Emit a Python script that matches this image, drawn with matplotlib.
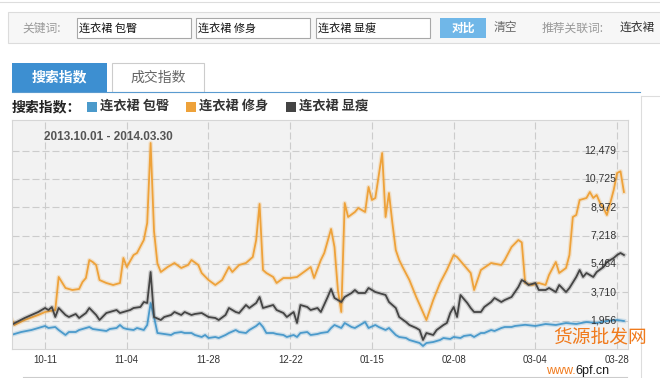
import matplotlib
matplotlib.use('Agg')
import matplotlib.pyplot as plt
import matplotlib.transforms as mtransforms
from matplotlib.patches import Rectangle
import pandas as pd

plt.rcParams['font.family'] = ['Noto Sans CJK SC', 'DejaVu Sans']

# ---- data (day offsets from 2013-10-01) ----
start = pd.Timestamp('2013-10-01')

baotun_days = [0, 3, 6, 9, 10, 11, 13, 14, 16, 17, 19, 20, 22, 23, 24, 26, 28, 29, 31, 32,
               33, 34, 36, 37, 39, 40, 41, 42, 43, 45, 47, 48, 50, 51, 53, 54, 56, 57, 58, 60,
               61, 63, 64, 66, 67, 69, 70, 72, 73, 74, 75, 77, 78, 80, 81, 83, 84, 85, 87, 88,
               90, 91, 93, 94, 95, 97, 98, 100, 101, 102, 104, 105, 107, 108, 110, 111, 113, 114, 116, 117,
               119, 120, 121, 122, 124, 126, 127, 129, 130, 132, 133, 135, 136, 138, 139, 141, 142, 144, 145, 147,
               148, 151, 154, 157, 160, 163, 166, 169, 172, 175, 178, 180]
baotun_vals = [1069, 1254, 1378, 1564, 1626, 1502, 1564, 1378, 1069, 1254, 1254, 1378, 1502, 1564, 1440, 1378, 1316, 1440, 1502, 1688,
               1502, 1440, 1378, 1502, 1378, 1688, 3049, 2183, 1192, 1131, 1069, 1192, 1254, 1192, 1192, 1069, 945, 1069, 883, 945,
               883, 1069, 1192, 1378, 1254, 1192, 1378, 1626, 1811, 1564, 1192, 1192, 1131, 1069, 945, 1069, 945, 1192, 1254, 1069,
               1131, 1192, 1254, 1502, 1688, 1502, 1811, 1564, 1502, 1626, 1873, 1502, 1688, 1564, 1378, 1502, 1069, 945, 883, 759,
               635, 573, 388, 573, 635, 759, 883, 821, 945, 883, 1007, 1069, 945, 1192, 1192, 1378, 1316, 1502, 1564, 1564,
               1626, 1700, 1626, 1750, 1688, 1811, 1750, 1873, 1811, 1935, 1997, 1935]

xiushen_days = [0, 1, 4, 8, 10, 13, 14, 16, 18, 20, 21, 22, 23, 24, 25, 26, 28, 30, 32, 33,
                34, 36, 37, 39, 40, 41, 42, 43, 44, 46, 48, 50, 52, 53, 55, 56, 58, 60, 62, 64,
                65, 67, 69, 71, 72, 73, 74, 75, 77, 78, 80, 82, 84, 86, 88, 89, 91, 92, 94, 95,
                96, 97, 98, 99, 101, 102, 104, 105, 106, 107, 109, 110, 111, 112, 113, 114, 115, 117, 119, 122,
                124, 126, 128, 130, 131, 133, 135, 136, 138, 141, 144, 145, 147, 149, 150, 151, 153, 155, 157, 158,
                160, 161, 163, 164, 165, 166, 167, 169, 170, 171, 172, 173, 174, 175, 176, 177, 178, 179, 180]
xiushen_vals = [2121, 1688, 1997, 2307, 2492, 2616, 4659, 3978, 3854, 3916, 4349, 4597, 5711, 5587, 5402, 4473, 4287, 4164, 4287, 5835,
                5278, 6021, 6144, 6949, 8000, 12953, 7500, 5500, 4968, 5278, 5525, 5216, 5402, 5711, 5402, 4906, 4473, 4164, 4473, 5278,
                4968, 5402, 5525, 5897, 6949, 9178, 5092, 4906, 4659, 4287, 4597, 4597, 4659, 4968, 5278, 4597, 5711, 6144, 7630, 6516,
                3854, 2492, 9239, 8373, 8682, 8930, 8682, 10230, 9425, 9549, 12334, 8373, 9858, 8001, 6330, 5711, 5278, 4473, 3421, 1997,
                3235, 4287, 5092, 6021, 5897, 5402, 4906, 3854, 5092, 5525, 5402, 5711, 6516, 6949, 6800, 4287, 4164, 4287, 4164, 4784,
                5587, 4906, 5216, 6021, 8373, 8497, 9425, 9549, 9920, 9549, 9735, 9239, 8930, 8497, 9239, 10044, 11096, 11200, 9920]

xianshou_days = [0, 4, 8, 10, 11, 12, 13, 14, 16, 17, 19, 20, 22, 23, 25, 26, 28, 29, 31, 32,
                 33, 35, 36, 38, 39, 40, 41, 42, 44, 45, 47, 48, 50, 51, 53, 54, 56, 57, 58, 60,
                 61, 63, 64, 66, 67, 69, 70, 72, 73, 74, 75, 77, 78, 80, 81, 83, 84, 85, 87, 88,
                 90, 91, 93, 94, 95, 97, 98, 100, 101, 102, 104, 105, 107, 108, 110, 111, 113, 114, 116, 117,
                 119, 120, 121, 122, 124, 125, 127, 128, 129, 130, 131, 132, 134, 135, 136, 138, 139, 141, 142, 144,
                 145, 147, 148, 149, 150, 151, 152, 154, 155, 157, 158, 160, 161, 163, 164, 166, 167, 168, 169, 171,
                 172, 174, 175, 177, 178, 179, 180]
xianshou_vals = [1688, 2121, 2492, 2740, 2616, 2802, 2183, 2740, 2307, 2183, 2369, 2121, 2430, 2740, 2307, 1997, 2430, 2492, 2616, 2430,
                 2492, 2616, 2740, 2802, 3111, 3049, 4968, 2183, 1997, 2183, 2307, 2492, 2307, 2492, 2307, 2369, 2430, 2307, 2183, 2121,
                 1997, 2307, 2740, 2492, 2430, 2926, 2740, 3049, 3421, 2740, 2802, 2926, 2616, 2430, 2183, 2492, 1811, 2926, 2802, 2616,
                 2740, 2492, 3421, 3916, 3359, 3111, 3421, 3668, 3854, 3668, 3668, 3978, 3730, 3668, 3545, 3111, 2740, 2183, 1873, 1688,
                 1502, 1378, 759, 1192, 1069, 1378, 1688, 1811, 2430, 2802, 2183, 3545, 3049, 2740, 2492, 2492, 2802, 3111, 3359, 3111,
                 3235, 3421, 3730, 4040, 4473, 4349, 4164, 4287, 3854, 3854, 3978, 3730, 4164, 3730, 3978, 4659, 5092, 4659, 4906, 4659,
                 4968, 5278, 5587, 5835, 6021, 6144, 6021]

keywords = ['连衣裙 包臀', '连衣裙 修身', '连衣裙 显瘦']
colors = ['#4b9acb', '#eea23a', '#444444']
ytick_vals = [1956, 3710, 5464, 7218, 8972, 10725, 12479]
xtick_labels = ['10-11', '11-04', '11-28', '12-22', '01-15', '02-08', '03-04', '03-28']
xtick_dates = ['2013-10-11', '2013-11-04', '2013-11-28', '2013-12-22',
               '2014-01-15', '2014-02-08', '2014-03-04', '2014-03-28']
date_range_text = '2013.10.01 - 2014.03.30'


def to_dates(days):
    return start + pd.to_timedelta(days, unit='D')


def pixel_axes(fig, w, h):
    # full-figure axes in pixel coords, origin top-left
    a = fig.add_axes([0, 0, 1, 1])
    a.set_xlim(0, w)
    a.set_ylim(h, 0)
    a.axis('off')
    a.patch.set_alpha(0)
    return a


W, H = 660, 378
fig = plt.figure(figsize=(W / 100, H / 100), dpi=100)

# ---- page chrome ----
ui = pixel_axes(fig, W, H)

ui.plot([0, W], [2, 2], color='#dddddd', lw=0.8)
ui.add_patch(Rectangle((8, 12), W, 31, facecolor='#f7f7f7', edgecolor='#dcdcdc', lw=0.8))
ui.text(22, 28, '关键词:', color='#9a9a9a', fontsize=8.5, va='center')
for x0, w, kw in [(77, 114, keywords[0]), (196, 114, keywords[1]), (316, 114, keywords[2])]:
    ui.add_patch(Rectangle((x0, 18), w, 20, facecolor='white', edgecolor='#a8a8a8', lw=0.8))
    ui.text(x0 + 2, 28, kw, color='#111111', fontsize=8, va='center')
ui.add_patch(Rectangle((440, 18), 46, 20, facecolor='#70b7e8', edgecolor='none'))
ui.text(463, 28, '对比', color='white', fontsize=8.5, fontweight='bold', va='center', ha='center')
ui.text(494, 28, '清空', color='#666666', fontsize=8.5, va='center')
ui.text(542, 28, '推荐关联词:', color='#9a9a9a', fontsize=8.5, va='center')
ui.text(620, 28, '连衣裙', color='#333333', fontsize=8.5, va='center')

# tabs
ui.add_patch(Rectangle((12, 63), 95, 29, facecolor='#3d8fd1', edgecolor='none'))
ui.text(59.5, 77.5, '搜索指数', color='white', fontsize=10, fontweight='bold', va='center', ha='center')
ui.add_patch(Rectangle((112, 63), 92, 29, facecolor='white', edgecolor='#cccccc', lw=0.8))
ui.text(158, 77.5, '成交指数', color='#666666', fontsize=10, va='center', ha='center')
ui.plot([12, 640], [92, 92], color='#5a9bd0', lw=0.8)

# legend row
ui.text(12, 107, '搜索指数：', color='#222222', fontsize=10, fontweight='bold', va='center')
for x0, kw, c in zip([87, 186, 286], keywords, colors):
    ui.add_patch(Rectangle((x0, 102), 10, 10, facecolor=c, edgecolor='none'))
    ui.text(x0 + 13, 107, kw, color='#333333', fontsize=9.5, fontweight='bold', va='center')

# right panel and bottom borders
ui.plot([641, 641], [96, H], color='#dddddd', lw=0.8)
ui.plot([641, W], [96, 96], color='#dddddd', lw=0.8)
ui.plot([23, 627], [377, 377], color='#cccccc', lw=0.8)

# ---- the chart ----
ax = fig.add_axes([12 / W, (H - 349) / H, 616 / W, 229 / H])
ax.set_facecolor('#f2f2f2')
for s in ax.spines.values():
    s.set_color('#d6d6d6')
    s.set_linewidth(0.8)

series = [(baotun_days, baotun_vals), (xiushen_days, xiushen_vals), (xianshou_days, xianshou_vals)]
for (days, vals), c in zip(series, colors):
    d = to_dates(days)
    ax.plot(d, vals, color=c, lw=3.2, alpha=0.22, solid_joinstyle='round')
    ax.plot(d, vals, color=c, lw=1.3, solid_joinstyle='round')

ax.set_xlim(start + pd.Timedelta(hours=7), start + pd.Timedelta(days=181.2))
ax.set_ylim(202, 14377)

ax.set_xticks(pd.to_datetime(xtick_dates))
ax.set_xticklabels(xtick_labels, fontsize=7, color='#333333', family='Liberation Sans')
ax.set_yticks(ytick_vals)
ax.tick_params(length=0, labelleft=False, pad=4)
ax.grid(True, color='#cccccc', lw=0.8, ls=(0, (6.3, 2.7)))
ax.set_axisbelow(True)

trans = mtransforms.blended_transform_factory(ax.transData, ax.transData)
label_x = pd.Timestamp(xtick_dates[-1]) - pd.Timedelta(hours=6)
for v in ytick_vals:
    ax.text(label_x, v, f'{v:,}', ha='right', va='center', fontsize=7.5,
            color='#333333', family='Liberation Sans', transform=trans)

ax.text(0.052, 0.926, date_range_text, transform=ax.transAxes, fontsize=8.5,
        fontweight='bold', color='#555555', family='Liberation Sans', va='center')

# ---- watermark stamped over the lower right corner ----
wm = pixel_axes(fig, W, H)
wm.text(600, 338, '货源批发网', color='#f07a1c', fontsize=13.5, ha='center', va='center')
wm.text(546, 371, 'www.', color='#f07a1c', fontsize=9, va='center', family='Liberation Sans')
wm.text(575, 371, '6pf.cn', color='#1a1a1a', fontsize=9, va='center', family='Liberation Sans')

fig.savefig('out.png', dpi=100)
